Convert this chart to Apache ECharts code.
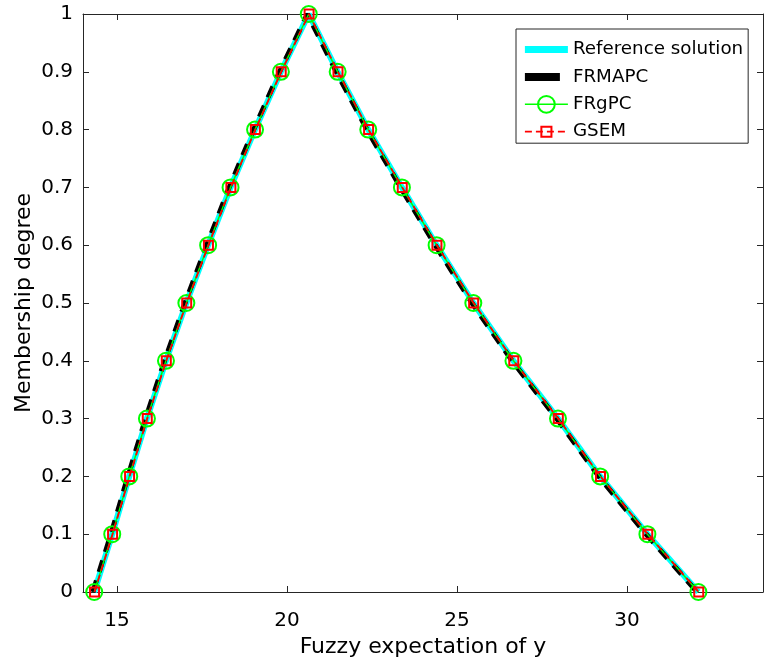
<!DOCTYPE html>
<html>
<head>
<meta charset="utf-8">
<script src="https://cdn.jsdelivr.net/npm/echarts@6/dist/echarts.min.js"></script>
<style>
  html, body { margin: 0; padding: 0; background: #fff; }
  #chart { width: 767px; height: 666px; }
</style>
</head>
<body>
<div id="chart"></div>
<script>
// Membership levels (alpha-cuts), rising to the peak then falling back
const membership = [0, 0.1, 0.2, 0.3, 0.4, 0.5, 0.6, 0.7, 0.8, 0.9, 1,
                    0.9, 0.8, 0.7, 0.6, 0.5, 0.4, 0.3, 0.2, 0.1, 0];

// Fuzzy expectation of y at each membership level, per method
const referenceX = [14.33, 14.86, 15.36, 15.88, 16.44, 17.04, 17.68, 18.34, 19.06, 19.82, 20.64,
                    21.49, 22.39, 23.38, 24.40, 25.48, 26.66, 27.97, 29.21, 30.60, 32.10];
const frmapcX    = [14.29, 14.82, 15.32, 15.84, 16.40, 17.00, 17.64, 18.30, 19.02, 19.78, 20.60,
                    21.45, 22.35, 23.34, 24.36, 25.44, 26.62, 27.93, 29.17, 30.56, 32.06];
const frgpcX     = [14.33, 14.86, 15.36, 15.88, 16.44, 17.04, 17.68, 18.34, 19.06, 19.82, 20.64,
                    21.49, 22.39, 23.38, 24.40, 25.48, 26.66, 27.97, 29.21, 30.60, 32.10];
const gsemX      = [14.34, 14.87, 15.37, 15.89, 16.45, 17.05, 17.69, 18.35, 19.07, 19.83, 20.65,
                    21.50, 22.40, 23.39, 24.41, 25.49, 26.67, 27.98, 29.22, 30.61, 32.11];

// Axis ticks
const xTicks = [15, 20, 25, 30];
const xRange = [14, 34];
const yRange = [0, 1];

const seriesNames = ['Reference solution', 'FRMAPC', 'FRgPC', 'GSEM'];

function pairs(xs) {
  return xs.map((x, i) => [x, membership[i]]);
}

const FONT = '"DejaVu Sans", Verdana, sans-serif';
const AXIS_COLOR = '#262626';

// Square marker drawn inside a larger padded box, so the legend copy stays small
const SQUARE_MARK = 'path://M0,0M10,10M2,2H8V8H2Z';

const chart = echarts.init(document.getElementById('chart'), null, { renderer: 'canvas' });

const baseX = {
  type: 'value',
  min: xRange[0],
  max: xRange[1],
  splitLine: { show: false },
  axisLine: { show: true, onZero: false, lineStyle: { color: AXIS_COLOR, width: 1 } },
  axisTick: { show: true, inside: true, length: 6, customValues: xTicks,
              lineStyle: { color: AXIS_COLOR, width: 1 } }
};
const baseY = {
  type: 'value',
  min: yRange[0],
  max: yRange[1],
  interval: 0.1,
  splitLine: { show: false },
  axisLine: { show: true, onZero: false, lineStyle: { color: AXIS_COLOR, width: 1 } },
  axisTick: { show: true, inside: true, length: 6, lineStyle: { color: AXIS_COLOR, width: 1 } }
};

chart.setOption({
  backgroundColor: '#ffffff',
  animation: false,
  textStyle: { fontFamily: FONT },
  grid: { left: 83, top: 14, right: 4, bottom: 74, containLabel: false },
  xAxis: [
    Object.assign({}, baseX, {
      position: 'bottom',
      name: 'Fuzzy expectation of y',
      nameLocation: 'middle',
      nameGap: 44,
      nameMoveOverlap: false,
      nameTextStyle: { fontFamily: FONT, fontSize: 22, color: '#000' },
      axisLabel: { show: true, margin: 19, customValues: xTicks,
                   fontFamily: FONT, fontSize: 20, color: '#000' }
    }),
    Object.assign({}, baseX, {
      position: 'top',
      axisLabel: { show: false }
    })
  ],
  yAxis: [
    Object.assign({}, baseY, {
      position: 'left',
      name: 'Membership degree',
      nameLocation: 'middle',
      nameGap: 48,
      nameMoveOverlap: false,
      nameTextStyle: { fontFamily: FONT, fontSize: 22, color: '#000' },
      axisLabel: { show: true, margin: 10, fontFamily: FONT, fontSize: 20, color: '#000',
                   formatter: v => String(Math.round(v * 10) / 10) }
    }),
    Object.assign({}, baseY, {
      position: 'right',
      axisLabel: { show: false }
    })
  ],
  legend: {
    orient: 'vertical',
    left: 516,
    top: 29,
    data: [
      { name: seriesNames[0], icon: 'path://M0,0H43V7H0Z' },
      { name: seriesNames[1], icon: 'path://M0,0H35V8H0ZM43,4' },
      { name: seriesNames[2] },
      { name: seriesNames[3] }
    ],
    backgroundColor: '#ffffff',
    borderColor: AXIS_COLOR,
    borderWidth: 1,
    padding: [10, 5, 1, 8],
    itemWidth: 43,
    itemHeight: 21,
    itemGap: 6.4,
    lineStyle: { width: 'inherit' },
    textStyle: { fontFamily: FONT, fontSize: 18.3, lineHeight: 21, color: '#000' }
  },
  series: [
    {
      name: seriesNames[0],
      type: 'line',
      data: pairs(referenceX),
      showSymbol: false,
      symbol: 'none',
      lineStyle: { color: '#00ffff', width: 6 },
      itemStyle: { color: '#00ffff' },
      z: 1
    },
    {
      name: seriesNames[1],
      type: 'line',
      data: pairs(frmapcX),
      showSymbol: false,
      symbol: 'none',
      lineStyle: { color: '#000000', width: 5, type: [12, 9], cap: 'butt' },
      itemStyle: { color: '#000000' },
      z: 2
    },
    {
      name: seriesNames[2],
      type: 'line',
      data: pairs(frgpcX),
      symbol: 'circle',
      symbolSize: 16,
      showSymbol: true,
      lineStyle: { color: '#00ff00', width: 1.5 },
      itemStyle: { color: 'rgba(0,0,0,0)', borderColor: '#00ff00', borderWidth: 2 },
      z: 3
    },
    {
      name: seriesNames[3],
      type: 'line',
      data: pairs(gsemX),
      symbol: SQUARE_MARK,
      symbolSize: 15,
      showSymbol: true,
      lineStyle: { color: '#ff0000', width: 1.8, type: [7, 4] },
      itemStyle: { color: 'rgba(0,0,0,0)', borderColor: '#ff0000', borderWidth: 2 },
      z: 4
    }
  ]
});
</script>
</body>
</html>
